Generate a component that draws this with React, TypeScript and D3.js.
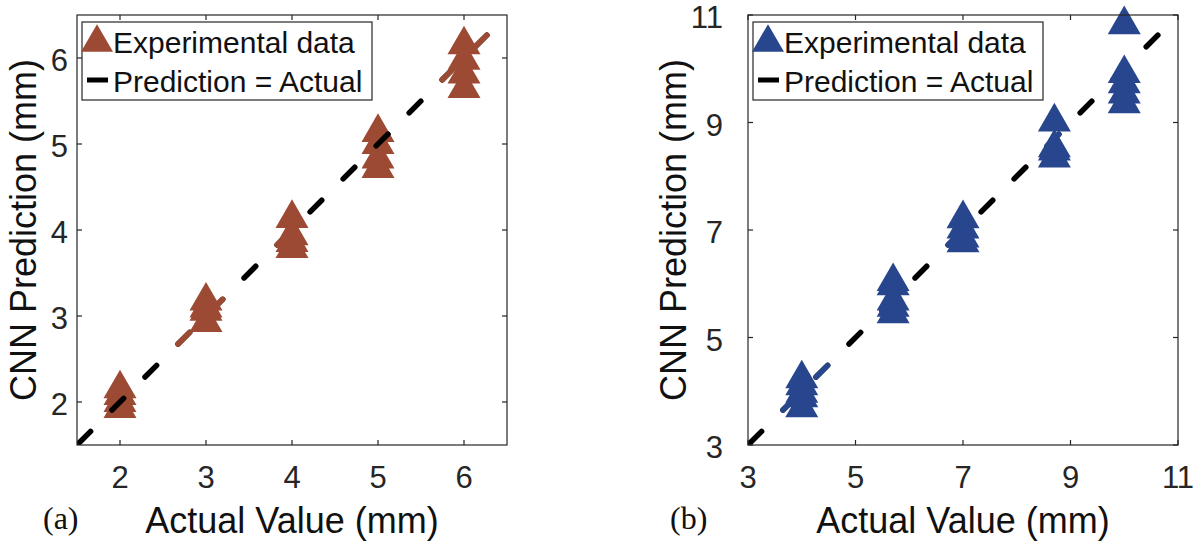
import * as d3 from 'd3';

// panel (a)
const actualA = [2, 3, 4, 5, 6];
const predA = [
  [2.21, 2.13, 2.05, 1.98],
  [3.23, 3.15, 3.11, 2.98],
  [4.19, 3.99, 3.91, 3.84],
  [5.19, 5.05, 4.88, 4.77],
  [6.21, 6.03, 5.87, 5.7],
];
const ticksA = [2, 3, 4, 5, 6];
const domainA = [1.5, 6.5];
// stretches of the y = x line where the dashes take the marker colour
const tintA = [[2.6, 3.3], [3.7, 4.1], [5.6, 6.4]];
// stretches where the black dashes sit on top of the markers
const overA = [[1.8, 2.2], [4.9, 5.2]];

// panel (b)
const actualB = [4, 5.7, 7, 8.7, 10];
const predB = [
  [4.32, 4.19, 4.05, 3.97, 3.78],
  [6.13, 6.05, 5.77, 5.65, 5.53],
  [7.3, 7.11, 6.94, 6.85],
  [9.1, 8.62, 8.56, 8.43],
  [10.91, 10.0, 9.81, 9.62, 9.44],
];
const ticksB = [3, 5, 7, 9, 11];
const domainB = [3, 11];
const tintB = [[3.5, 4.6], [5.3, 6.0], [6.6, 7.05], [8.4, 9.0], [9.6, 10.3]];
const overB: number[][] = [];

const legendLabels = ['Experimental data', 'Prediction = Actual'];
const xTitle = 'Actual Value (mm)';
const yTitle = 'CNN Prediction (mm)';

const SIZE = 430;
const TOP = 15;
const SANS = '"Liberation Sans", Arial, Helvetica, sans-serif';
const SERIF = '"Liberation Serif", "Times New Roman", serif';
const AXIS = '#262626';
const dash = { stroke: '#000', strokeWidth: 5.5, strokeDasharray: '16.5 30.2', strokeDashoffset: -2.75, strokeLinecap: 'round' as const };

const triangle = (cx: number, cy: number, s: number) => {
  const h = (s * Math.sqrt(3)) / 2;
  return `M${cx},${cy - h / 2}L${cx + s / 2},${cy + h / 2}L${cx - s / 2},${cy + h / 2}Z`;
};

type PanelProps = {
  id: string;
  left: number;
  domain: number[];
  ticks: number[];
  actual: number[];
  pred: number[][];
  color: string;
  tint: number[][];
  over: number[][];
  tag: string;
  tagX: number;
  tickGap: number;
  yTitleX: number;
};

const Panel = (props: PanelProps) => {
  const { id, left, domain, ticks, actual, pred, color, tint, over } = props;
  const x = d3.scaleLinear().domain(domain).range([left, left + SIZE]);
  const y = d3.scaleLinear().domain(domain).range([TOP + SIZE, TOP]);
  const idLine = d3.line()([
    [x(domain[0]), y(domain[0])],
    [x(domain[1]), y(domain[1])],
  ]) as string;
  const points = actual.flatMap((a, i) => pred[i].map((p) => [a, p]));
  const bottom = TOP + SIZE;

  return (
    <g>
      <defs>
        <clipPath id={`${id}-plot`}>
          <rect x={left} y={TOP} width={SIZE} height={SIZE} />
        </clipPath>
        {tint.concat(over).map((r, i) => (
          <clipPath key={i} id={`${id}-r${i}`}>
            <rect x={x(r[0])} y={TOP} width={x(r[1]) - x(r[0])} height={SIZE} />
          </clipPath>
        ))}
      </defs>

      <g clipPath={`url(#${id}-plot)`}>
        <path d={idLine} fill="none" {...dash} />
        {tint.map((r, i) => (
          <path key={i} d={idLine} fill="none" {...dash} stroke={color} clipPath={`url(#${id}-r${i})`} />
        ))}
      </g>

      {points.map((d, i) => (
        <path key={i} d={triangle(x(d[0]), y(d[1]), 33)} fill={color} />
      ))}

      <g clipPath={`url(#${id}-plot)`}>
        {over.map((r, i) => (
          <path key={i} d={idLine} fill="none" {...dash} clipPath={`url(#${id}-r${i + tint.length})`} />
        ))}
      </g>

      <rect x={left} y={TOP} width={SIZE} height={SIZE} fill="none" stroke={AXIS} strokeWidth={1.2} />
      {ticks.map((t) => (
        <g key={t} stroke={AXIS} strokeWidth={1.2}>
          <line x1={x(t)} x2={x(t)} y1={bottom} y2={bottom - 5} />
          <line x1={x(t)} x2={x(t)} y1={TOP} y2={TOP + 5} />
          <line x1={left} x2={left + 5} y1={y(t)} y2={y(t)} />
          <line x1={left + SIZE} x2={left + SIZE - 5} y1={y(t)} y2={y(t)} />
        </g>
      ))}
      {ticks.map((t) => (
        <text key={`x${t}`} x={x(t)} y={488} textAnchor="middle" fontFamily={SANS} fontSize={31} fill={AXIS}>
          {t}
        </text>
      ))}
      {ticks.map((t) => (
        <text key={`y${t}`} x={left - props.tickGap} y={y(t)} dy="0.42em" textAnchor="end" fontFamily={SANS} fontSize={31} fill={AXIS}>
          {t}
        </text>
      ))}

      <text x={left + SIZE / 2} y={533} textAnchor="middle" fontFamily={SANS} fontSize={36} fill="#111">
        {xTitle}
      </text>
      <text
        transform={`translate(${props.yTitleX},${TOP + SIZE / 2}) rotate(-90)`}
        textAnchor="middle"
        fontFamily={SANS}
        fontSize={36}
        fill="#111"
      >
        {yTitle}
      </text>
      <text x={props.tagX} y={529} fontFamily={SERIF} fontSize={32} fill="#111">
        {props.tag}
      </text>

      <g>
        <rect x={left + 5} y={22} width={290} height={78} fill="#fff" stroke={AXIS} strokeWidth={1.2} />
        <path d={triangle(left + 20, 38, 32)} fill={color} />
        <line x1={left + 10} x2={left + 31} y1={80} y2={80} stroke="#000" strokeWidth={5} />
        <text x={left + 36} y={53} fontFamily={SANS} fontSize={30} fill="#111">
          {legendLabels[0]}
        </text>
        <text x={left + 36} y={92} fontFamily={SANS} fontSize={30} fill="#111">
          {legendLabels[1]}
        </text>
      </g>
    </g>
  );
};

export default function App() {
  return (
    <svg width={1203} height={544} style={{ position: 'absolute', left: 0, top: 0, background: '#fff' }}>
      <Panel
        id="a"
        left={77}
        domain={domainA}
        ticks={ticksA}
        actual={actualA}
        pred={predA}
        color="#9c4a33"
        tint={tintA}
        over={overA}
        tag="(a)"
        tagX={43}
        tickGap={9}
        yTitleX={36}
      />
      <Panel
        id="b"
        left={748}
        domain={domainB}
        ticks={ticksB}
        actual={actualB}
        pred={predB}
        color="#28468e"
        tint={tintB}
        over={overB}
        tag="(b)"
        tagX={670}
        tickGap={25}
        yTitleX={686}
      />
    </svg>
  );
}
